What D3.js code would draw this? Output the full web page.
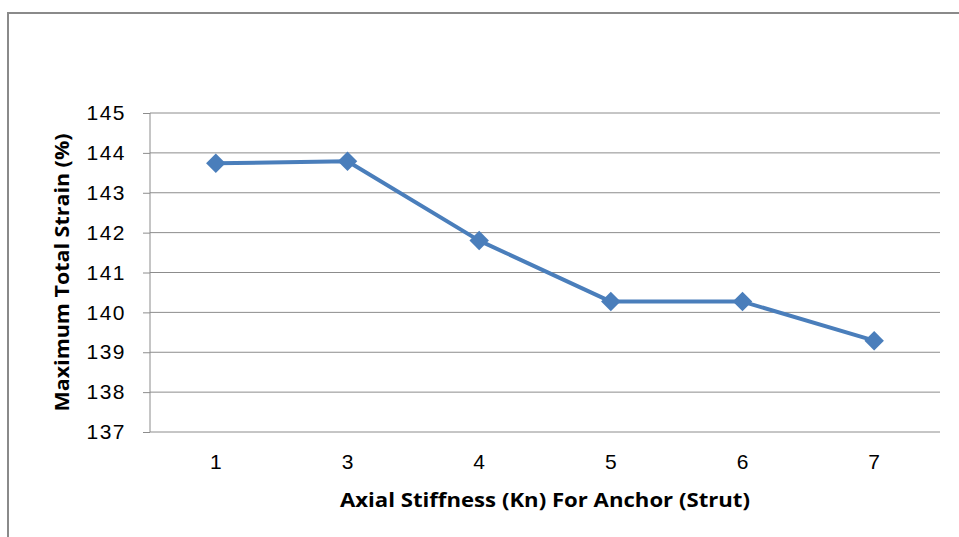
<!DOCTYPE html>
<html lang="en">
<head>
    <meta charset="UTF-8">
    <title>Maximum Total Strain vs Axial Stiffness</title>
    <script src="https://d3js.org/d3.v7.min.js"></script>
    <style>
        body { margin: 0; background: #fff; }
        .tick text {
            font-family: "Liberation Sans", Arial, sans-serif;
            font-size: 21px;
            fill: #000;
        }
        .axis-title {
            font-family: "Open Sans", "Liberation Sans", sans-serif;
            font-weight: bold;
            font-size: 20px;
            fill: #000;
        }
    </style>
</head>
<body>
    <script>
        const width = 959;
        const height = 537;

        // data
        const categories = ["1", "3", "4", "5", "6", "7"];
        const strain = [143.74, 143.79, 141.80, 140.27, 140.27, 139.29];
        const yTicks = [137, 138, 139, 140, 141, 142, 143, 144, 145];

        const margin = { top: 113, right: 19, bottom: 105, left: 150 };

        const svg = d3.select("body").append("svg")
            .attr("width", width)
            .attr("height", height);

        // outer chart frame (clipped on the right and bottom)
        svg.append("rect")
            .attr("x", 8)
            .attr("y", 13)
            .attr("width", width + 10)
            .attr("height", height + 10)
            .attr("fill", "#fff")
            .attr("stroke", "#8a8a8a")
            .attr("stroke-width", 2);

        const x = d3.scaleBand()
            .domain(categories)
            .range([margin.left, width - margin.right]);

        const y = d3.scaleLinear()
            .domain([137, 145])
            .range([height - margin.bottom, margin.top]);

        // gridlines
        svg.append("g")
            .selectAll("line")
            .data(yTicks)
            .join("line")
            .attr("x1", margin.left)
            .attr("x2", width - margin.right)
            .attr("y1", d => y(d))
            .attr("y2", d => y(d))
            .attr("stroke", "#8c8c8c")
            .attr("stroke-width", 1);

        // y axis
        const yAxis = svg.append("g")
            .attr("transform", `translate(${margin.left},0)`)
            .call(d3.axisLeft(y).tickValues(yTicks).tickSize(7).tickPadding(17));
        yAxis.selectAll("line, path").attr("stroke", "#8c8c8c");
        yAxis.select(".domain").attr("d", `M0,${y(137)}V${y(145)}`);
        yAxis.selectAll(".tick text").attr("letter-spacing", "1.5px");

        // x axis labels (no ticks in the original)
        const xAxis = svg.append("g")
            .attr("transform", `translate(0,${y(137)})`)
            .call(d3.axisBottom(x).tickSize(0).tickPadding(22));
        xAxis.select(".domain").remove();

        // series line
        const line = d3.line()
            .x((d, i) => x(categories[i]) + x.bandwidth() / 2)
            .y(d => y(d));

        svg.append("path")
            .datum(strain)
            .attr("d", line)
            .attr("fill", "none")
            .attr("stroke", "#4a7ebb")
            .attr("stroke-width", 4)
            .attr("stroke-linejoin", "round");

        svg.append("g")
            .selectAll("path")
            .data(strain)
            .join("path")
            .attr("d", d3.symbol().type(d3.symbolSquare).size(190))
            .attr("transform", (d, i) =>
                `translate(${x(categories[i]) + x.bandwidth() / 2},${y(d)}) rotate(45)`)
            .attr("fill", "#4a7ebb");

        // axis titles
        svg.append("text")
            .attr("class", "axis-title")
            .attr("x", margin.left + (width - margin.left - margin.right) / 2)
            .attr("y", 507)
            .attr("text-anchor", "middle")
            .attr("textLength", 410)
            .attr("lengthAdjust", "spacingAndGlyphs")
            .text("Axial Stiffness (Kn) For Anchor (Strut)");

        svg.append("text")
            .attr("class", "axis-title")
            .attr("transform", `translate(69,${(y(137) + y(145)) / 2}) rotate(-90)`)
            .attr("text-anchor", "middle")
            .attr("textLength", 278)
            .attr("lengthAdjust", "spacingAndGlyphs")
            .text("Maximum Total Strain (%)");
    </script>
</body>
</html>
